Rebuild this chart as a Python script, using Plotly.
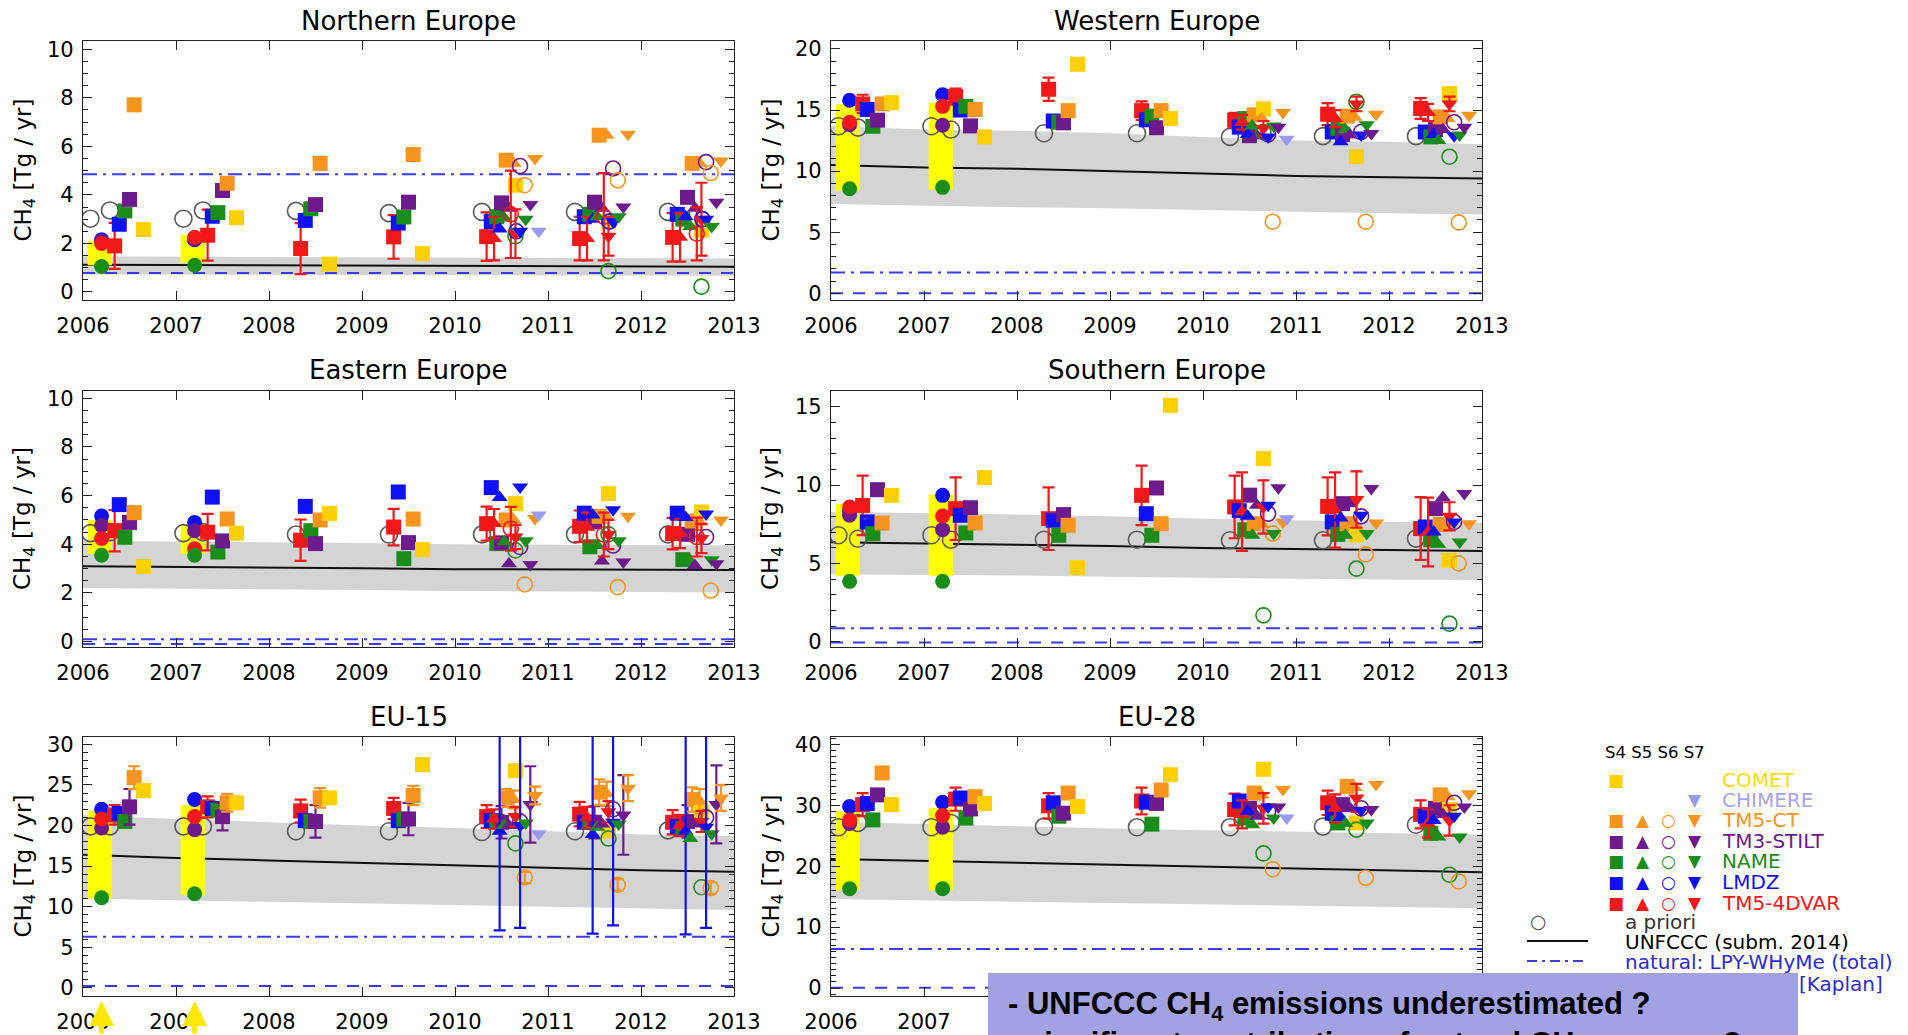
import plotly.graph_objects as go

# ---------------------------------------------------------------- data
YEARS = [2006, 2007, 2008, 2009, 2010, 2011, 2012]
YEARS_LATE = [2010, 2011, 2012]
YEARS_LINE = [2006, 2007, 2008, 2009, 2010, 2011, 2012, 2013]
PRIOR_YEARS = [2006, 2006, 2007, 2007, 2008, 2009, 2010, 2011, 2012]
EARLY_YEARS = [2006, 2007]
X_TICKS = [2006, 2007, 2008, 2009, 2010, 2011, 2012, 2013]

S4_MODELS = ["TM5-4DVAR", "LMDZ", "NAME", "TM3-STILT", "TM5-CT", "COMET"]
S5_MODELS = ["TM5-4DVAR", "LMDZ", "NAME", "TM3-STILT", "TM5-CT"]
S6_MODELS = ["TM5-4DVAR", "LMDZ", "NAME", "TM3-STILT", "TM5-CT"]
S7_MODELS = ["TM5-4DVAR", "LMDZ", "NAME", "TM3-STILT", "TM5-CT", "CHIMERE"]
EARLY_MODELS = ["LMDZ", "TM3-STILT", "TM5-4DVAR", "NAME"]

REGION_TITLES = ["Northern Europe", "Western Europe", "Eastern Europe",
                 "Southern Europe", "EU-15", "EU-28"]

# ---- Northern Europe
NE_S4 = [[1.9, 2.34, 1.79, 2.27, 2.28, 2.2, 2.25],
         [2.79, 3.12, 2.95, 2.84, 2.9, 3.1, 3.2],
         [3.34, 3.27, 3.43, 3.09, 3.1, 3.2, 3.0],
         [3.81, 4.18, 3.6, 3.7, 3.67, 3.7, 3.9],
         [7.71, 4.48, 5.3, 5.66, 5.43, 6.46, 5.3],
         [2.57, 3.06, 1.15, 1.58, 4.4, 2.9, 2.55]]
NE_S4_ERR = [[0.95, 1.05, 1.05, 0.9, 1.0, 0.9, 1.0], None, None, None, None, None]
NE_S5 = [[2.2, 2.2, 2.25], [2.6, 3.0, 3.1], [3.05, 3.1, 2.7], [3.45, 3.45, 3.45], [5.3, 6.46, 5.3]]
NE_S5_ERR = [[0.9, 0.9, 1.0], None, None, None, None]
NE_S6 = [[3.2, 3.1, 2.4], [2.5, 2.9, 3.0], [2.3, 0.86, 0.22], [5.19, 5.09, 5.35], [4.4, 4.6, 4.9]]
NE_S6_ERR = [[1.8, 1.8, 1.1], None, None, None, None]
NE_S7 = [[2.4, 2.3, 3.0], [2.5, 2.9, 3.0], [3.0, 3.1, 2.7], [3.6, 3.5, 3.7], [5.5, 6.5, 5.4], [2.5, None, None]]
NE_S7_ERR = [[1.0, 0.8, 1.5], None, None, None, None, None]
NE_PRIOR = [3.02, 3.36, 3.02, 3.36, 3.34, 3.25, 3.3, 3.3, 3.3]
NE_EARLY = [[2.15, 2.15], [2.1, 2.2], [2.0, 2.25], [1.05, 1.1]]
NE_RANGE_LO = [1.1, 1.2]
NE_RANGE_HI = [2.1, 2.35]
NE_UNFCCC = [1.12, 1.11, 1.10, 1.09, 1.07, 1.06, 1.05, 1.04]
NE_BAND_LO = [0.72, 0.71, 0.71, 0.70, 0.69, 0.68, 0.68, 0.67]
NE_BAND_HI = [1.47, 1.46, 1.45, 1.43, 1.41, 1.40, 1.39, 1.38]
NE_NAT = [4.85, 0.78]
NE_YTICKS = [0, 2, 4, 6, 8, 10]

# ---- Western Europe
WE_S4 = [[15.5, 16.1, 16.7, 14.95, 14.17, 14.66, 15.13],
         [15.05, 15.0, 14.1, 14.2, 13.6, 13.2, 13.2],
         [13.67, 15.3, 14.0, 14.5, 14.3, 13.5, 12.8],
         [14.17, 13.7, 13.95, 13.55, 12.9, 13.0, 13.4],
         [15.5, 15.05, 14.95, 14.95, 14.6, 14.5, 14.44],
         [15.6, 12.8, 18.75, 14.3, 15.1, 11.18, 16.35]]
WE_S4_ERR = [[0.75, 0.65, 0.95, 0.75, 0.6, 0.9, 0.85], None, None, None, None, None]
WE_S5 = [[14.0, 14.3, 14.8], [13.0, 12.4, 13.0], [13.7, 13.4, 12.5], [12.9, 12.96, 13.4], [14.3, 14.4, 14.3]]
WE_S5_ERR = [[0.6, 0.7, 0.7], None, None, None, None]
WE_S6 = [[None, None, None], [None, None, None], [13.2, 15.67, 11.18], [13.0, 13.2, 14.0], [5.86, 5.86, 5.8]]
WE_S6_ERR = [None, None, None, None, None]
WE_S7 = [[13.5, 15.5, 15.5], [12.8, 12.96, 12.9], [13.7, 13.8, 12.96], [13.6, 13.08, 13.6], [14.8, 14.66, 14.58], [12.6, None, None]]
WE_S7_ERR = [[0.6, 0.6, 0.6], None, None, None, None, None]
WE_PRIOR = [13.67, 13.56, 13.67, 13.4, 13.1, 13.1, 12.8, 12.86, 12.86]
WE_EARLY = [[15.8, 16.25], [13.8, 13.75], [14.0, 15.3], [8.56, 8.67]]
WE_RANGE_LO = [8.4, 8.5]
WE_RANGE_HI = [15.5, 15.6]
WE_UNFCCC = [10.5, 10.3, 10.2, 10.0, 9.8, 9.6, 9.5, 9.4]
WE_BAND_LO = [7.3, 7.15, 7.05, 6.95, 6.8, 6.65, 6.55, 6.45]
WE_BAND_HI = [13.7, 13.4, 13.3, 13.1, 12.8, 12.5, 12.4, 12.2]
WE_NAT = [1.7, 0.0]
WE_YTICKS = [0, 5, 10, 15, 20]

# ---- Eastern Europe
EE_S4 = [[4.56, 4.5, 4.17, 4.71, 4.85, 4.74, 4.44],
         [5.63, 5.94, 5.56, 6.15, 6.33, 5.28, 5.28],
         [4.29, 3.68, 4.56, 3.41, 4.03, 3.9, 3.37],
         [4.9, 4.14, 4.03, 4.07, 4.06, 4.92, 4.41],
         [5.3, 5.04, 5.0, 5.04, 5.0, 5.15, 4.96],
         [3.09, 4.46, 5.27, 3.78, 5.67, 6.08, 5.33]]
EE_S4_ERR = [[0.85, 0.75, 0.85, 0.75, 0.7, 0.65, 0.65], None, None, None, None, None]
EE_S5 = [[4.85, 4.7, 4.44], [5.92, 5.2, 5.1], [4.1, 3.95, 3.3], [3.2, 3.31, 3.13], [5.0, 5.12, 4.92]]
EE_S5_ERR = [[0.6, 0.6, 0.6], None, None, None, None]
EE_S6 = [[4.64, 4.4, 4.3], [None, None, None], [3.75, 4.41, None], [3.89, 3.95, 4.3], [2.35, 2.24, 2.1]]
EE_S6_ERR = [[0.9, 0.9, 0.8], None, None, None, None]
EE_S7 = [[4.3, 4.4, 4.24], [6.36, 5.42, 5.25], [4.15, 4.15, 3.37], [3.17, 3.27, 3.2], [5.06, 5.15, 5.0], [5.2, None, None]]
EE_S7_ERR = [[0.5, 0.6, 0.6], None, None, None, None, None]
EE_PRIOR = [4.46, 4.5, 4.46, 4.5, 4.4, 4.4, 4.41, 4.41, 4.41]
EE_EARLY = [[5.16, 4.9], [4.78, 4.56], [4.24, 3.82], [3.55, 3.55]]
EE_RANGE_LO = [3.6, 3.6]
EE_RANGE_HI = [5.0, 4.8]
EE_UNFCCC = [3.1, 3.08, 3.06, 3.02, 2.98, 2.96, 2.95, 2.94]
EE_BAND_LO = [2.2, 2.18, 2.15, 2.12, 2.08, 2.06, 2.04, 2.02]
EE_BAND_HI = [4.15, 4.12, 4.1, 4.05, 4.0, 3.98, 3.96, 3.95]
EE_NAT = [0.1, -0.1]
EE_YTICKS = [0, 2, 4, 6, 8, 10]

# ---- Southern Europe
SE_S4 = [[8.7, 8.49, 7.85, 9.34, 8.6, 8.64, 7.22],
         [7.64, 8.07, 7.75, 8.17, 8.36, 7.64, 7.32],
         [6.89, 6.94, 6.79, 6.79, 7.14, 6.85, 6.51],
         [9.7, 8.55, 8.11, 9.81, 9.35, 8.81, 8.49],
         [7.57, 7.57, 7.43, 7.53, 7.53, 7.53, 7.49],
         [9.34, 10.47, 4.72, 15.09, 11.68, 6.8, 5.2]]
SE_S4_ERR = [[1.9, 2.0, 2.0, 1.9, 2.0, 1.85, 2.0], None, None, None, None, None]
SE_S5 = [[8.3, 8.4, 7.0], [8.0, 7.9, 7.0], [6.8, 6.8, 6.2], [8.7, 8.81, 9.2], [7.5, 7.5, 7.49]]
SE_S5_ERR = [[2.5, 2.4, 2.2], None, None, None, None]
SE_S6 = [[None, None, None], [None, None, None], [1.68, 4.66, 1.15], [8.17, 8.0, 7.64], [6.9, 5.57, 5.0]]
SE_S6_ERR = [None, None, None, None, None]
SE_S7 = [[8.6, 9.07, 8.0], [8.7, 8.07, 7.64], [6.9, 6.9, 6.36], [9.83, 9.77, 9.45], [7.64, 7.58, 7.53], [7.85, None, None]]
SE_S7_ERR = [[1.7, 1.8, 0.9], None, None, None, None, None]
SE_PRIOR = [6.79, 6.57, 6.79, 6.51, 6.51, 6.51, 6.47, 6.47, 6.58]
SE_EARLY = [[8.28, 9.34], [8.07, 7.15], [8.6, 8.02], [3.85, 3.85]]
SE_RANGE_LO = [4.2, 4.2]
SE_RANGE_HI = [8.8, 9.4]
SE_UNFCCC = [6.35, 6.28, 6.2, 6.1, 5.98, 5.9, 5.82, 5.78]
SE_BAND_LO = [4.3, 4.27, 4.22, 4.15, 4.07, 4.02, 3.97, 3.93]
SE_BAND_HI = [8.3, 8.22, 8.12, 8.0, 7.85, 7.75, 7.65, 7.6]
SE_NAT = [0.85, -0.05]
SE_YTICKS = [0, 5, 10, 15]

# ---- EU-15
EU15_S4 = [[21.3, 22.3, 21.8, 22.1, 21.1, 21.4, 20.4],
           [21.5, 22.1, 20.6, 20.6, 20.6, 20.4, 19.9],
           [20.5, 21.9, 20.5, 20.8, 20.5, 20.4, 19.6],
           [22.3, 21.1, 20.5, 20.8, 20.4, 20.4, 20.5],
           [25.9, 22.8, 23.4, 23.7, 23.4, 24.1, 23.2],
           [24.3, 22.8, 23.4, 27.5, 26.75, 19.3, 21.7]]
EU15_S4_ERR = [[1.2, 1.3, 1.4, 1.3, 1.4, 1.5, 1.5], None, None,
               [2.2, 1.7, 2.0, 2.0, 2.0, 2.0, 2.0],
               [1.4, 1.1, 1.2, 1.2, 1.1, 1.6, 1.5], None]
EU15_S5 = [[20.8, 21.0, 20.0], [19.3, 18.9, 19.3], [20.0, 19.8, 18.4], [20.0, 20.2, 20.2], [23.2, 23.9, 23.0]]
EU15_S5_ERR = [[1.2, 1.3, 1.3], [12.2, 12.2, 12.7], None, None, [1.1, 1.5, 1.5]]
EU15_S6 = [[None, None, None], [None, None, None], [17.8, 18.4, 12.4], [20.5, 22.0, 21.0], [13.6, 12.7, 12.3]]
EU15_S6_ERR = [None, None, None, None, [0.7, 0.7, 0.7]]
EU15_S7 = [[21.1, 21.7, 20.5], [20.0, 20.4, 19.8], [20.3, 20.2, 19.0], [22.6, 21.3, 22.6], [23.7, 24.6, 23.4], [19.0, None, None]]
EU15_S7_ERR = [[1.2, 1.3, 1.3], [12.6, 12.7, 12.4], None, [4.7, 4.9, 4.8], [1.1, 1.6, 1.6], None]
EU15_PRIOR = [19.9, 19.9, 19.9, 19.9, 19.3, 19.3, 19.2, 19.3, 19.4]
EU15_EARLY = [[22.0, 23.2], [19.7, 19.5], [20.8, 21.1], [11.1, 11.6]]
EU15_RANGE_LO = [11.0, 11.4]
EU15_RANGE_HI = [21.8, 22.5]
EU15_UNFCCC = [16.4, 16.0, 15.7, 15.4, 15.1, 14.8, 14.5, 14.3]
EU15_BAND_LO = [11.0, 10.8, 10.6, 10.4, 10.2, 10.0, 9.8, 9.6]
EU15_BAND_HI = [21.3, 20.8, 20.4, 20.0, 19.7, 19.3, 18.9, 18.7]
EU15_NAT = [6.3, 0.25]
EU15_YTICKS = [0, 5, 10, 15, 20, 25, 30]

# ---- EU-28
EU28_S4 = [[30.1, 31.0, 29.9, 30.7, 29.3, 30.4, 28.5],
           [30.3, 31.2, 30.4, 30.5, 30.7, 28.7, 28.2],
           [27.6, 27.9, 28.2, 26.9, 27.9, 27.1, 25.4],
           [31.7, 29.4, 28.7, 30.3, 29.5, 30.1, 29.5],
           [35.3, 31.4, 32.0, 32.5, 32.0, 33.1, 31.7],
           [30.1, 30.3, 29.8, 35.0, 35.9, 27.1, 29.3]]
EU28_S4_ERR = [[1.9, 1.9, 2.1, 2.2, 2.6, 2.0, 2.3], None, None, None, None, None]
EU28_S5 = [[28.5, 29.5, 27.0], [29.0, 28.0, 27.5], [26.8, 27.0, 24.8], [28.2, 29.5, 28.5], [31.7, 32.9, 31.4]]
EU28_S5_ERR = [[2.3, 2.3, 2.3], None, None, None, None]
EU28_S6 = [[None, None, None], [None, None, None], [22.1, 26.0, 18.6], [29.0, 29.5, 30.4], [19.5, 18.1, 17.5]]
EU28_S6_ERR = [None, None, None, None, None]
EU28_S7 = [[29.5, 31.2, 27.5], [29.7, 29.2, 28.2], [27.9, 27.1, 24.8], [29.7, 29.3, 29.7], [32.6, 33.4, 31.9], [27.9, None, None]]
EU28_S7_ERR = [[2.5, 2.3, 2.5], None, None, None, None, None]
EU28_PRIOR = [26.4, 27.1, 26.4, 27.1, 26.5, 26.4, 26.4, 26.5, 26.8]
EU28_EARLY = [[29.8, 30.5], [27.0, 26.4], [27.6, 28.3], [16.3, 16.3]]
EU28_RANGE_LO = [16.0, 16.0]
EU28_RANGE_HI = [29.0, 29.5]
EU28_UNFCCC = [21.2, 20.9, 20.6, 20.3, 20.0, 19.6, 19.3, 19.0]
EU28_BAND_LO = [14.6, 14.4, 14.2, 14.0, 13.8, 13.5, 13.3, 13.1]
EU28_BAND_HI = [27.3, 26.9, 26.6, 26.2, 25.9, 25.6, 25.4, 25.2]
EU28_NAT = [6.4, 0.05]
EU28_YTICKS = [0, 10, 20, 30, 40]

LEGEND_MODELS = ["COMET", "CHIMERE", "TM5-CT", "TM3-STILT", "NAME", "LMDZ", "TM5-4DVAR"]

# ---------------------------------------------------------------- styles
W, H = 1908, 1035
COLORS = {"TM5-4DVAR": "#F01818", "LMDZ": "#1010F5", "NAME": "#1A8C1A",
          "TM3-STILT": "#6C1A8C", "TM5-CT": "#F7941D", "COMET": "#FFD000",
          "CHIMERE": "#9A9AF0"}
LEG_TEXT_COLORS = dict(COLORS, COMET="#FFDC00", CHIMERE="#A4A4EE")
OFF = {
    "S4": {"TM5-4DVAR": 0.34, "LMDZ": 0.39, "NAME": 0.45, "TM3-STILT": 0.50, "TM5-CT": 0.55, "COMET": 0.65},
    "S5": {"TM5-4DVAR": 0.42, "LMDZ": 0.48, "NAME": 0.53, "TM3-STILT": 0.58, "TM5-CT": 0.63},
    "S6": {"TM5-4DVAR": 0.60, "LMDZ": 0.66, "NAME": 0.65, "TM3-STILT": 0.70, "TM5-CT": 0.75},
    "S7": {"TM5-4DVAR": 0.65, "LMDZ": 0.70, "NAME": 0.76, "TM3-STILT": 0.81, "TM5-CT": 0.86, "CHIMERE": 0.90},
}
PRIOR_OFF = [0.08, 0.29, 0.08, 0.29, 0.29, 0.29, 0.29, 0.29, 0.29]
EARLY_OFF = 0.20
RANGE_OFF, RANGE_HW = 0.18, 0.13
SYMBOLS = {"S4": "square", "S5": "triangle-up", "S6": "circle-open", "S7": "triangle-down"}
SIZES = {"S4": 15, "S5": 14, "S6": 15, "S7": 14}

# pixel layout of the six panels (left, right, top, bottom)
COLS = [(83, 734), (831, 1482)]
ROWS = [(41, 300), (391, 647), (737, 996)]
YRANGES = [(-0.33, 10.34), (-0.55, 20.65), (-0.22, 10.3), (-0.34, 16.0), (-0.99, 30.9), (-1.3, 41.2)]
MINOR = [0.5, 1, 0.5, 1, 1, 1]
TITLE_Y = [21, 370, 717]

REGIONS = [
    (NE_S4, NE_S4_ERR, NE_S5, NE_S5_ERR, NE_S6, NE_S6_ERR, NE_S7, NE_S7_ERR, NE_PRIOR, NE_EARLY,
     NE_RANGE_LO, NE_RANGE_HI, NE_UNFCCC, NE_BAND_LO, NE_BAND_HI, NE_NAT, NE_YTICKS),
    (WE_S4, WE_S4_ERR, WE_S5, WE_S5_ERR, WE_S6, WE_S6_ERR, WE_S7, WE_S7_ERR, WE_PRIOR, WE_EARLY,
     WE_RANGE_LO, WE_RANGE_HI, WE_UNFCCC, WE_BAND_LO, WE_BAND_HI, WE_NAT, WE_YTICKS),
    (EE_S4, EE_S4_ERR, EE_S5, EE_S5_ERR, EE_S6, EE_S6_ERR, EE_S7, EE_S7_ERR, EE_PRIOR, EE_EARLY,
     EE_RANGE_LO, EE_RANGE_HI, EE_UNFCCC, EE_BAND_LO, EE_BAND_HI, EE_NAT, EE_YTICKS),
    (SE_S4, SE_S4_ERR, SE_S5, SE_S5_ERR, SE_S6, SE_S6_ERR, SE_S7, SE_S7_ERR, SE_PRIOR, SE_EARLY,
     SE_RANGE_LO, SE_RANGE_HI, SE_UNFCCC, SE_BAND_LO, SE_BAND_HI, SE_NAT, SE_YTICKS),
    (EU15_S4, EU15_S4_ERR, EU15_S5, EU15_S5_ERR, EU15_S6, EU15_S6_ERR, EU15_S7, EU15_S7_ERR, EU15_PRIOR, EU15_EARLY,
     EU15_RANGE_LO, EU15_RANGE_HI, EU15_UNFCCC, EU15_BAND_LO, EU15_BAND_HI, EU15_NAT, EU15_YTICKS),
    (EU28_S4, EU28_S4_ERR, EU28_S5, EU28_S5_ERR, EU28_S6, EU28_S6_ERR, EU28_S7, EU28_S7_ERR, EU28_PRIOR, EU28_EARLY,
     EU28_RANGE_LO, EU28_RANGE_HI, EU28_UNFCCC, EU28_BAND_LO, EU28_BAND_HI, EU28_NAT, EU28_YTICKS),
]

FONT = "DejaVu Sans"


def px_x(x):
    return x / W


def px_y(y):
    return 1 - y / H


fig = go.Figure()
annotations = []
shapes = []
layout_axes = {}


def add_points(xa, ya, years, values, errs, off, symbol, size, color):
    xs, ys, es = [], [], []
    for i, v in enumerate(values):
        if v is None:
            continue
        xs.append(years[i] + off)
        ys.append(v)
        es.append(errs[i] if errs is not None else None)
    if not xs:
        return
    kw = {}
    if errs is not None:
        kw["error_y"] = dict(type="data", array=es, visible=True, color=color,
                             thickness=2.2, width=6)
    if symbol.endswith("open"):
        marker = dict(symbol=symbol, size=size, color=color, line=dict(width=1.6, color=color))
    else:
        marker = dict(symbol=symbol, size=size, color=color, line=dict(width=0))
    fig.add_trace(go.Scatter(x=xs, y=ys, mode="markers", marker=marker, xaxis=xa, yaxis=ya,
                             showlegend=False, hoverinfo="skip", **kw))


for idx, reg in enumerate(REGIONS):
    (s4, s4e, s5, s5e, s6, s6e, s7, s7e, prior, early, rlo, rhi,
     unf, blo, bhi, nat, yticks) = reg
    n = idx + 1
    xa = "x" if n == 1 else f"x{n}"
    ya = "y" if n == 1 else f"y{n}"
    col, row = idx % 2, idx // 2
    l, r = COLS[col]
    t, b = ROWS[row]

    # uncertainty band of UNFCCC inventory
    fig.add_trace(go.Scatter(x=YEARS_LINE, y=blo, mode="lines", line=dict(width=0, color="#D4D4D4"),
                             xaxis=xa, yaxis=ya, showlegend=False, hoverinfo="skip"))
    fig.add_trace(go.Scatter(x=YEARS_LINE, y=bhi, mode="lines", line=dict(width=0, color="#D4D4D4"),
                             fill="tonexty", fillcolor="#D4D4D4",
                             xaxis=xa, yaxis=ya, showlegend=False, hoverinfo="skip"))
    # UNFCCC line
    fig.add_trace(go.Scatter(x=YEARS_LINE, y=unf, mode="lines", line=dict(width=2, color="#111111"),
                             xaxis=xa, yaxis=ya, showlegend=False, hoverinfo="skip"))
    # natural emissions
    fig.add_trace(go.Scatter(x=[X_TICKS[0], X_TICKS[-1]], y=[nat[0], nat[0]], mode="lines",
                             line=dict(width=2, color="#3A3AF0", dash="14px,6px,3px,6px"),
                             xaxis=xa, yaxis=ya, showlegend=False, hoverinfo="skip"))
    fig.add_trace(go.Scatter(x=[X_TICKS[0], X_TICKS[-1]], y=[nat[1], nat[1]], mode="lines",
                             line=dict(width=2, color="#3A3AF0", dash="12px,10px"),
                             xaxis=xa, yaxis=ya, showlegend=False, hoverinfo="skip"))
    # yellow range bars (2006, 2007)
    for k, yr in enumerate(EARLY_YEARS):
        xc = yr + RANGE_OFF
        fig.add_trace(go.Scatter(
            x=[xc - RANGE_HW, xc + RANGE_HW, xc + RANGE_HW, xc - RANGE_HW, xc - RANGE_HW],
            y=[rlo[k], rlo[k], rhi[k], rhi[k], rlo[k]], mode="lines", fill="toself",
            fillcolor="#FFFF00", line=dict(width=0, color="#FFFF00"),
            xaxis=xa, yaxis=ya, showlegend=False, hoverinfo="skip"))
    # a priori
    fig.add_trace(go.Scatter(x=[PRIOR_YEARS[i] + PRIOR_OFF[i] for i in range(len(prior))], y=prior,
                             mode="markers",
                             marker=dict(symbol="circle-open", size=17, color="#5A5A5A", line=dict(width=1.6)),
                             xaxis=xa, yaxis=ya, showlegend=False, hoverinfo="skip"))
    # early inversions (filled circles)
    for m, vals in zip(EARLY_MODELS, early):
        add_points(xa, ya, EARLY_YEARS, vals, None, EARLY_OFF, "circle", 15, COLORS[m])
    # scenarios
    for scen, models, vals, errs, years in [("S4", S4_MODELS, s4, s4e, YEARS),
                                            ("S5", S5_MODELS, s5, s5e, YEARS_LATE),
                                            ("S6", S6_MODELS, s6, s6e, YEARS_LATE),
                                            ("S7", S7_MODELS, s7, s7e, YEARS_LATE)]:
        for m, v, e in zip(models, vals, errs):
            add_points(xa, ya, years, v, e, OFF[scen][m], SYMBOLS[scen], SIZES[scen], COLORS[m])

    axis_common = dict(showline=True, linecolor="#222222", linewidth=1.2, mirror="ticks",
                       ticks="inside", ticklen=9, tickwidth=1.2, tickcolor="#222222",
                       showgrid=False, zeroline=False, automargin=False,
                       tickfont=dict(family=FONT, size=21, color="#000000"))
    layout_axes["xaxis" if n == 1 else f"xaxis{n}"] = dict(
        domain=[px_x(l), px_x(r)], range=[X_TICKS[0], X_TICKS[-1]], tickvals=X_TICKS,
        ticktext=[str(v) for v in X_TICKS], anchor=ya, ticklabelstandoff=7, **axis_common)
    layout_axes["yaxis" if n == 1 else f"yaxis{n}"] = dict(
        domain=[px_y(b), px_y(t)], range=list(YRANGES[idx]), tickvals=yticks,
        ticktext=[str(v) for v in yticks], anchor=xa, ticklabelstandoff=4,
        minor=dict(ticks="inside", ticklen=5, dtick=MINOR[idx], tick0=0, tickcolor="#222222"),
        **axis_common)

    # panel title
    annotations.append(dict(text=REGION_TITLES[idx], x=px_x((l + r) / 2), y=px_y(TITLE_Y[row]),
                            xref="paper", yref="paper", xanchor="center", yanchor="middle",
                            showarrow=False, font=dict(family=FONT, size=26, color="#000000")))
    # y-axis title
    annotations.append(dict(text="CH<sub>4</sub> [Tg / yr]", x=px_x(l - 59), y=px_y((t + b) / 2),
                            xref="paper", yref="paper", xanchor="center", yanchor="middle",
                            textangle=-90, showarrow=False,
                            font=dict(family=FONT, size=23, color="#000000")))

# ---------------------------------------------------------------- legend
GLYPHS = ["\u25A0", "\u25B2", "\u25CB", "\u25BC"]
GLYPH_X = [1616, 1643, 1668, 1695]
LEG_ROW_Y = [780, 800, 820, 841, 861, 882, 903]
LEG_USE = {"COMET": [1, 0, 0, 0], "CHIMERE": [0, 0, 0, 1]}
LEG_FONT = 20
annotations.append(dict(text="S4 S5 S6 S7", x=px_x(1603), y=px_y(752), xref="paper", yref="paper",
                        xanchor="left", yanchor="middle", showarrow=False,
                        font=dict(family=FONT, size=16.5, color="#000000")))
for m, yy in zip(LEGEND_MODELS, LEG_ROW_Y):
    use = LEG_USE.get(m, [1, 1, 1, 1])
    for g, gx, u in zip(GLYPHS, GLYPH_X, use):
        if u:
            annotations.append(dict(text=g, x=px_x(gx), y=px_y(yy), xref="paper", yref="paper",
                                    xanchor="center", yanchor="middle", showarrow=False,
                                    font=dict(family=FONT, size=17, color=COLORS[m])))
    annotations.append(dict(text=m, x=px_x(1720), y=px_y(yy), xref="paper", yref="paper",
                            xanchor="left", yanchor="middle", showarrow=False,
                            font=dict(family=FONT, size=LEG_FONT, color=LEG_TEXT_COLORS[m])))
annotations.append(dict(text="\u25CB", x=px_x(1538), y=px_y(921), xref="paper", yref="paper",
                        xanchor="center", yanchor="middle", showarrow=False,
                        font=dict(family=FONT, size=19, color="#555555")))
annotations.append(dict(text="a priori", x=px_x(1623), y=px_y(922), xref="paper", yref="paper",
                        xanchor="left", yanchor="middle", showarrow=False,
                        font=dict(family=FONT, size=LEG_FONT, color="#333333")))
annotations.append(dict(text="UNFCCC (subm. 2014)", x=px_x(1623), y=px_y(942), xref="paper", yref="paper",
                        xanchor="left", yanchor="middle", showarrow=False,
                        font=dict(family=FONT, size=LEG_FONT, color="#000000")))
annotations.append(dict(text="natural: LPY-WHyMe (total)", x=px_x(1623), y=px_y(962), xref="paper",
                        yref="paper", xanchor="left", yanchor="middle", showarrow=False,
                        font=dict(family=FONT, size=LEG_FONT, color="#2A2AD8")))
annotations.append(dict(text="[Kaplan]", x=px_x(1885), y=px_y(984), xref="paper", yref="paper",
                        xanchor="right", yanchor="middle", showarrow=False,
                        font=dict(family=FONT, size=LEG_FONT, color="#2A2AD8")))
shapes.append(dict(type="line", xref="paper", yref="paper", x0=px_x(1527), x1=px_x(1588),
                   y0=px_y(941), y1=px_y(941), line=dict(color="#111111", width=1.8)))
shapes.append(dict(type="line", xref="paper", yref="paper", x0=px_x(1527), x1=px_x(1588),
                   y0=px_y(961), y1=px_y(961), line=dict(color="#4040D0", width=1.8, dash="10px,5px,3px,5px")))
shapes.append(dict(type="line", xref="paper", yref="paper", x0=px_x(1527), x1=px_x(1588),
                   y0=px_y(984), y1=px_y(984), line=dict(color="#4040D0", width=1.8, dash="8px,6px")))

# ---------------------------------------------------------------- text box
shapes.append(dict(type="rect", xref="paper", yref="paper", x0=px_x(988), x1=px_x(1798),
                   y0=px_y(1060), y1=px_y(973), fillcolor="#A2A2E2", line=dict(width=0), layer="above"))
annotations.append(dict(text="<b>- UNFCCC CH<sub>4</sub> emissions underestimated ?</b>",
                        x=px_x(1006), y=px_y(1006), xref="paper", yref="paper", xanchor="left",
                        yanchor="middle", showarrow=False,
                        font=dict(family="Liberation Sans", size=31, color="#000000")))
annotations.append(dict(text="<b>- significant contribution of natural CH<sub>4</sub> sources ?</b>",
                        x=px_x(1006), y=px_y(1046), xref="paper", yref="paper", xanchor="left",
                        yanchor="middle", showarrow=False,
                        font=dict(family="Liberation Sans", size=31, color="#000000")))

# ---------------------------------------------------------------- arrows
for yr in EARLY_YEARS:
    annotations.append(dict(text="", x=yr + EARLY_OFF, y=px_y(1001), xref="x5", yref="paper",
                            showarrow=True, ax=0, ay=55, arrowhead=2, arrowsize=1.0,
                            arrowwidth=5, arrowcolor="#FFE800", standoff=0))

fig.update_layout(width=W, height=H, autosize=False, margin=dict(l=0, r=0, t=0, b=0, pad=0),
                  paper_bgcolor="#FFFFFF", plot_bgcolor="#FFFFFF", showlegend=False,
                  annotations=annotations, shapes=shapes, **layout_axes)

fig.write_html("out.html", config={"displayModeBar": False},
               post_script="document.body.style.margin='0px';document.body.style.overflow='hidden';")
